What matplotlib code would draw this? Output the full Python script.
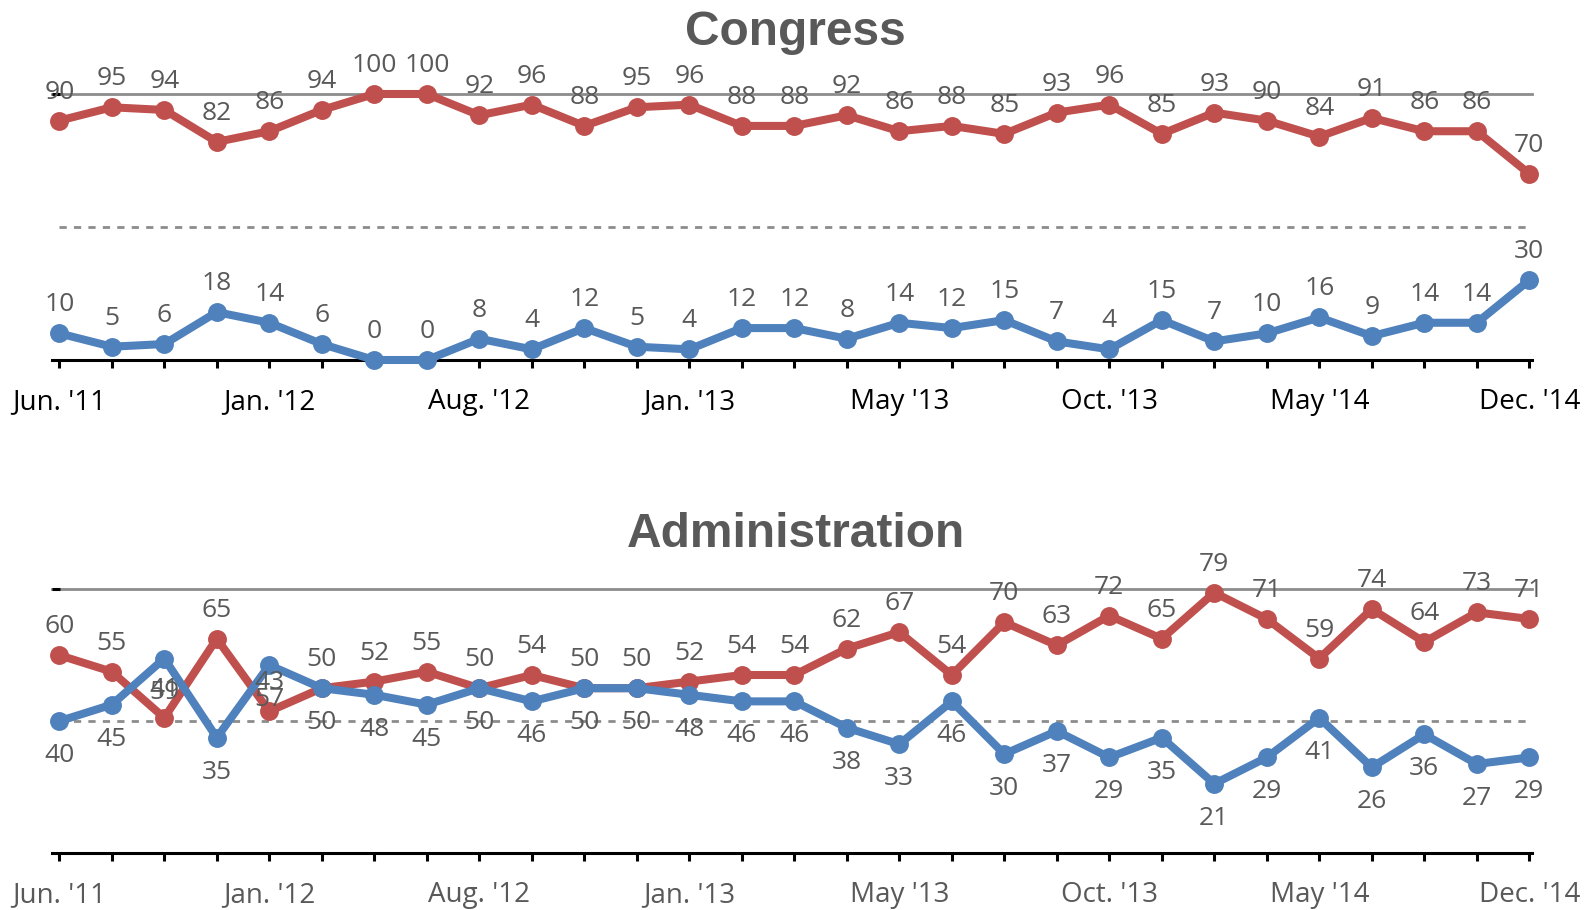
import matplotlib.pyplot as plt

# survey points, Jun. '11 .. Dec. '14
n_points = 29
tick_pos = [0, 4, 8, 12, 16, 20, 24, 28]
tick_text = ["Jun. '11", "Jan. '12", "Aug. '12", "Jan. '13",
             "May '13", "Oct. '13", "May '14", "Dec. '14"]

congress_red = [90, 95, 94, 82, 86, 94, 100, 100, 92, 96, 88, 95, 96, 88, 88,
                92, 86, 88, 85, 93, 96, 85, 93, 90, 84, 91, 86, 86, 70]
congress_blue = [10, 5, 6, 18, 14, 6, 0, 0, 8, 4, 12, 5, 4, 12, 12,
                 8, 14, 12, 15, 7, 4, 15, 7, 10, 16, 9, 14, 14, 30]

admin_red = [60, 55, 41, 65, 43, 50, 52, 55, 50, 54, 50, 50, 52, 54, 54,
             62, 67, 54, 70, 63, 72, 65, 79, 71, 59, 74, 64, 73, 71]
admin_blue = [40, 45, 59, 35, 57, 50, 48, 45, 50, 46, 50, 50, 48, 46, 46,
              38, 33, 46, 30, 37, 29, 35, 21, 29, 41, 26, 36, 27, 29]

RED = '#C0504D'
BLUE = '#4F81BD'
LABEL_GRAY = '#595959'
W, H = 1591, 910

fig = plt.figure(figsize=(W / 100, H / 100), dpi=100)
x = list(range(n_points))


def add_panel(top_px, bottom_px, ymax, ymid, red, blue, blue_below, tick_color):
    left_px, right_px = 51.95, 1531.9
    ax = fig.add_axes([left_px / W, 1 - bottom_px / H,
                       (right_px - left_px) / W, (bottom_px - top_px) / H])
    ax.set_xlim(-0.14, 28.05)
    ax.set_ylim(0, ymax)
    for s in ['left', 'right', 'top']:
        ax.spines[s].set_visible(False)
    ax.spines['bottom'].set_linewidth(2.2)
    ax.spines['bottom'].set_color('black')

    # reference lines
    ax.axhline(ymax, color='#8c8c8c', lw=2, zorder=1, clip_on=False)
    ax.hlines(ymid, x[0], x[-1], colors='#8c8c8c', lw=2,
              linestyles=(0, (2.6, 2.6)), zorder=1)

    ax.plot(x, red, color=RED, lw=5.8, marker='o', ms=13.6, mew=0,
            zorder=3, clip_on=False, solid_joinstyle='round')
    ax.plot(x, blue, color=BLUE, lw=5.8, marker='o', ms=13.6, mew=0,
            zorder=4, clip_on=False, solid_joinstyle='round')

    for xi, v in zip(x, red):
        ax.annotate(str(v), (xi, v), xytext=(0, 15.8), textcoords='offset points',
                    ha='center', va='baseline', fontsize=19,
                    family='Open Sans', color=LABEL_GRAY, zorder=6)
    off = -29.5 if blue_below else 15.8
    for xi, v in zip(x, blue):
        ax.annotate(str(v), (xi, v), xytext=(0, off), textcoords='offset points',
                    ha='center', va='baseline', fontsize=19,
                    family='Open Sans', color=LABEL_GRAY, zorder=6)

    labels = [''] * n_points
    for p, t in zip(tick_pos, tick_text):
        labels[p] = t
    ax.set_xticks(x)
    ax.set_xticklabels(labels, fontsize=20, family='Open Sans', color=tick_color)
    ax.tick_params(axis='x', direction='out', length=6, width=2.2,
                   color='black', pad=14)
    ax.set_yticks([ymax])
    ax.tick_params(axis='y', direction='in', length=6, width=2.2,
                   color='black', labelleft=False)
    return ax


add_panel(94, 360, 100, 50, congress_red, congress_blue, False, 'black')
add_panel(589.3, 853, 80, 40, admin_red, admin_blue, True, LABEL_GRAY)

fig.text(0.5, 1 - 45 / H, 'Congress', ha='center', va='baseline',
         fontsize=34.5, fontweight='bold', family='Liberation Sans', color=LABEL_GRAY)
fig.text(0.5, 1 - 546.7 / H, 'Administration', ha='center', va='baseline',
         fontsize=34.5, fontweight='bold', family='Liberation Sans', color=LABEL_GRAY)

plt.savefig('out.png', dpi=100)
